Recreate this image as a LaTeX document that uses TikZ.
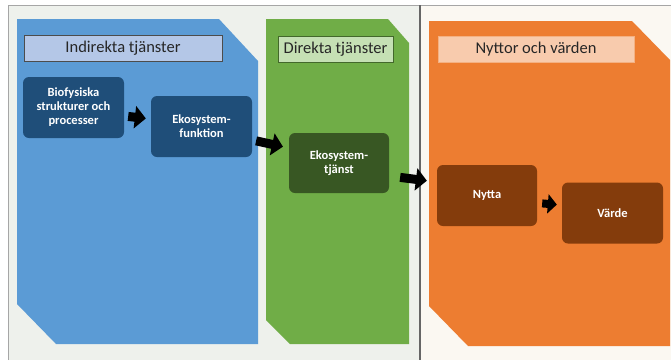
\documentclass[tikz,border=0pt]{standalone}
\usepackage{fontspec}
\setmainfont{Carlito}
\usepackage{xcolor}
\usepackage{tikz}
\usetikzlibrary{arrows.meta,positioning}
\definecolor{panelBlue}{HTML}{5B9BD5}
\definecolor{panelGreen}{HTML}{70AD47}
\definecolor{panelOrange}{HTML}{ED7D31}
\definecolor{boxBlue}{HTML}{1F4E79}
\definecolor{boxGreen}{HTML}{385723}
\definecolor{boxBrown}{HTML}{843C0C}
\definecolor{headBlue}{HTML}{B4C7E7}
\definecolor{headGreen}{HTML}{C5E0B4}
\definecolor{headOrange}{HTML}{F8CBAD}
\definecolor{bgLeft}{HTML}{EEF1EC}
\definecolor{bgRight}{HTML}{FBF8F2}

\begin{document}
\begin{tikzpicture}[x=1pt,y=-1pt,
    stepbox/.style={rectangle,rounded corners=6pt,minimum width=101pt,
                    minimum height=61pt,inner sep=2pt,align=center,
                    text=white,font=\bfseries\fontsize{12.5}{14}\selectfont},
    headbox/.style={rectangle,minimum height=26pt,inner sep=2pt,
                    line width=0.9pt,text=black!85,
                    font=\fontsize{16.5}{18}\selectfont},
    blockarrow/.style={line width=9pt,-{Triangle[length=11pt,width=22pt]}}
  ]
  \useasboundingbox (0,0) rectangle (671,360);
  % background
  \fill[white] (0,0) rectangle (671,360);
  \fill[bgLeft] (8,5) rectangle (420,360);
  \fill[bgRight] (420,5) rectangle (671,360);
  \draw[black!35,line width=1pt] (8,360) -- (8,5) -- (671,5);
  \draw[black!60,line width=1.2pt] (420,5) -- (420,360);
  % panels
  \fill[panelBlue] (17,19) -- (219,19) -- (258,61) -- (258,344)
    -- (56,344) -- (17,304) -- cycle;
  \fill[panelGreen] (266,19) -- (388,19) -- (409,43) -- (409,344)
    -- (290,344) -- (266,320) -- cycle;
  \fill[panelOrange] (429,21) -- (632,21) -- (670,60) -- (670,346)
    -- (468,346) -- (429,306) -- cycle;
  % headings
  \node[headbox,draw=black!70,fill=headBlue,minimum width=198pt]
    (indirekt) at (123,48.5) {Indirekta tjänster};
  \node[headbox,draw=panelGreen!60!black,fill=headGreen,minimum width=115pt]
    (direkt) at (335.5,49) {Direkta tjänster};
  \node[headbox,draw=panelOrange!60,fill=headOrange,minimum width=196pt]
    (nyttor) at (536,49) {Nyttor och värden};
  % steps
  \node[stepbox,fill=boxBlue]  (bio)    at (73.5,107.5) {Biofysiska\\strukturer och\\processer};
  \node[stepbox,fill=boxBlue]  (funk)   at (201.5,126.5) {Ekosystem-\\funktion};
  \node[stepbox,fill=boxGreen,minimum width=100pt,minimum height=60pt]
    (tjanst) at (339,163) {Ekosystem-\\tjänst};
  \node[stepbox,fill=boxBrown,minimum width=100pt] (nytta) at (487,195.5) {Nytta};
  \node[stepbox,fill=boxBrown] (varde)  at (612.5,213) {Värde};
  % arrows
  \draw[blockarrow,shorten <=4pt,shorten >=5pt]
    ([yshift=-8.5pt]bio.east) -- ([yshift=7.5pt]funk.west);
  \draw[blockarrow,shorten <=4pt,shorten >=6pt]
    ([yshift=-13.5pt]funk.east) -- ([yshift=15pt]tjanst.west);
  \draw[blockarrow,shorten <=11pt,shorten >=10pt]
    ([yshift=-13pt]tjanst.east) -- ([yshift=13.5pt]nytta.west);
  \draw[blockarrow,line width=8pt,-{Triangle[length=9pt,width=19pt]},
        shorten <=5pt,shorten >=5pt]
    ([yshift=-7.5pt]nytta.east) -- ([yshift=8pt]varde.west);
\end{tikzpicture}
\end{document}
